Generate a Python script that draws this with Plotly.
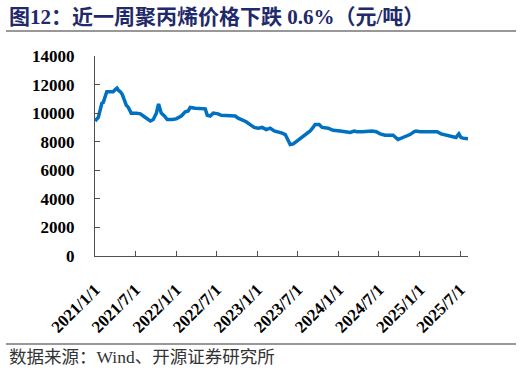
import plotly.graph_objects as go

dates = [
    "2021-01-01", "2021-01-07", "2021-01-16", "2021-01-25", "2021-02-01", "2021-02-07",
    "2021-02-16", "2021-02-23", "2021-03-11", "2021-03-24", "2021-04-02", "2021-04-10",
    "2021-04-16", "2021-04-25", "2021-05-04", "2021-05-13", "2021-05-22", "2021-05-31",
    "2021-06-13", "2021-07-06", "2021-07-24", "2021-08-11", "2021-09-07", "2021-09-20",
    "2021-10-04", "2021-10-14", "2021-10-19", "2021-10-26", "2021-11-09", "2021-11-22",
    "2021-12-14", "2022-01-01", "2022-01-24", "2022-02-11", "2022-02-24", "2022-03-05",
    "2022-03-28", "2022-04-19", "2022-05-12", "2022-05-21", "2022-06-03", "2022-06-17",
    "2022-07-09", "2022-07-23", "2022-09-01", "2022-09-24", "2022-10-07", "2022-10-25",
    "2022-11-12", "2022-11-30", "2022-12-18", "2023-01-05", "2023-01-23", "2023-02-10",
    "2023-02-28", "2023-03-18", "2023-04-05", "2023-04-23", "2023-05-07", "2023-05-20",
    "2023-05-29", "2023-06-12", "2023-06-25", "2023-07-13", "2023-08-04", "2023-08-27",
    "2023-09-09", "2023-09-18", "2023-10-06", "2023-10-20", "2023-11-16", "2023-12-08",
    "2024-01-09", "2024-02-05", "2024-02-23", "2024-03-12", "2024-03-25", "2024-04-17",
    "2024-06-01", "2024-06-19", "2024-07-07", "2024-07-29", "2024-09-03", "2024-09-25",
    "2024-10-09", "2024-10-27", "2024-11-18", "2024-12-06", "2024-12-15", "2025-01-02",
    "2025-02-16", "2025-03-20", "2025-04-07", "2025-05-03", "2025-05-30", "2025-06-13",
    "2025-06-26", "2025-07-05", "2025-07-14", "2025-07-28", "2025-08-06",
]
prices = [
    9650, 9550, 9700, 10300, 10700, 10750,
    11100, 11500, 11500, 11500, 11650, 11750,
    11600, 11500, 11300, 10900, 10550, 10400,
    10000, 10000, 9950, 9750, 9450, 9550,
    10000, 10650, 10350, 10000, 9800, 9550,
    9550, 9600, 9800, 10100, 10150, 10400,
    10350, 10350, 10300, 9850, 9800, 10000,
    9950, 9850, 9800, 9800, 9650, 9550,
    9400, 9200, 9000, 8950, 9000, 8850,
    8950, 8750, 8700, 8600, 8500, 8000,
    7800, 7850, 8000, 8250, 8500, 8750,
    9000, 9200, 9200, 9000, 8950, 8800,
    8750, 8700, 8650, 8750, 8700, 8700,
    8750, 8700, 8550, 8450, 8450, 8150,
    8250, 8350, 8500, 8700, 8750, 8700,
    8700, 8700, 8550, 8450, 8350, 8300,
    8550, 8300, 8250, 8250, 8200,
]

tick_dates = ["2021-01-01", "2021-07-01", "2022-01-01", "2022-07-01", "2023-01-01",
              "2023-07-01", "2024-01-01", "2024-07-01", "2025-01-01", "2025-07-01"]
tick_labels = ["2021/1/1", "2021/7/1", "2022/1/1", "2022/7/1", "2023/1/1",
               "2023/7/1", "2024/1/1", "2024/7/1", "2025/1/1", "2025/7/1"]
y_ticks = [0, 2000, 4000, 6000, 8000, 10000, 12000, 14000]

title_text = "图12：近一周聚丙烯价格下跌 0.6%（元/吨）"
source_text = "数据来源：Wind、开源证券研究所"

serif = "Liberation Serif, Noto Sans CJK SC"

fig = go.Figure()
fig.add_trace(go.Scatter(
    x=dates, y=prices, mode="lines",
    line=dict(color="#0070C0", width=3.5),
    showlegend=False, hoverinfo="skip",
))

axis_color = "#505050"
fig.update_layout(
    width=522, height=374,
    margin=dict(l=95, r=54, t=56, b=118, autoexpand=False),
    paper_bgcolor="white", plot_bgcolor="white",
    xaxis=dict(
        type="date", range=[dates[0], dates[-1]],
        tickvals=tick_dates, ticktext=tick_labels, tickangle=-45,
        showgrid=False, zeroline=False, automargin=False,
        showline=True, linecolor=axis_color, linewidth=1.3,
        ticks="inside", ticklen=5, tickcolor=axis_color, tickwidth=1.3,
        tickfont=dict(family=serif, size=17, color="black", weight="bold"),
        ticklabelstandoff=16,
    ),
    yaxis=dict(
        range=[0, 14000], tickvals=y_ticks, ticktext=[str(v) for v in y_ticks],
        showgrid=False, zeroline=False, automargin=False,
        showline=True, linecolor=axis_color, linewidth=1.3,
        ticks="inside", ticklen=5, tickcolor=axis_color, tickwidth=1.3,
        tickfont=dict(family=serif, size=17, color="black", weight="bold"),
        ticklabelstandoff=16,
    ),
    annotations=[
        dict(text="<b>" + title_text + "</b>", xref="paper", yref="paper",
             x=-0.236, y=1.195, xanchor="left", yanchor="middle", showarrow=False,
             font=dict(family=serif, size=21, color="#1F2A6B")),
        dict(text=source_text, xref="paper", yref="paper",
             x=-0.236, y=-0.505, xanchor="left", yanchor="middle", showarrow=False,
             font=dict(family=serif, size=17.5, color="#333333")),
    ],
    shapes=[
        dict(type="line", xref="paper", yref="paper", x0=-0.2386, x1=1.1287,
             y0=1.125, y1=1.125, line=dict(color="#333333", width=1.2)),
        dict(type="line", xref="paper", yref="paper", x0=-0.2386, x1=1.1287,
             y0=-0.44, y1=-0.44, line=dict(color="#333333", width=1.2)),
    ],
)

fig.write_html("out.html", post_script="document.body.style.margin='0';",
               config={"displayModeBar": False})
